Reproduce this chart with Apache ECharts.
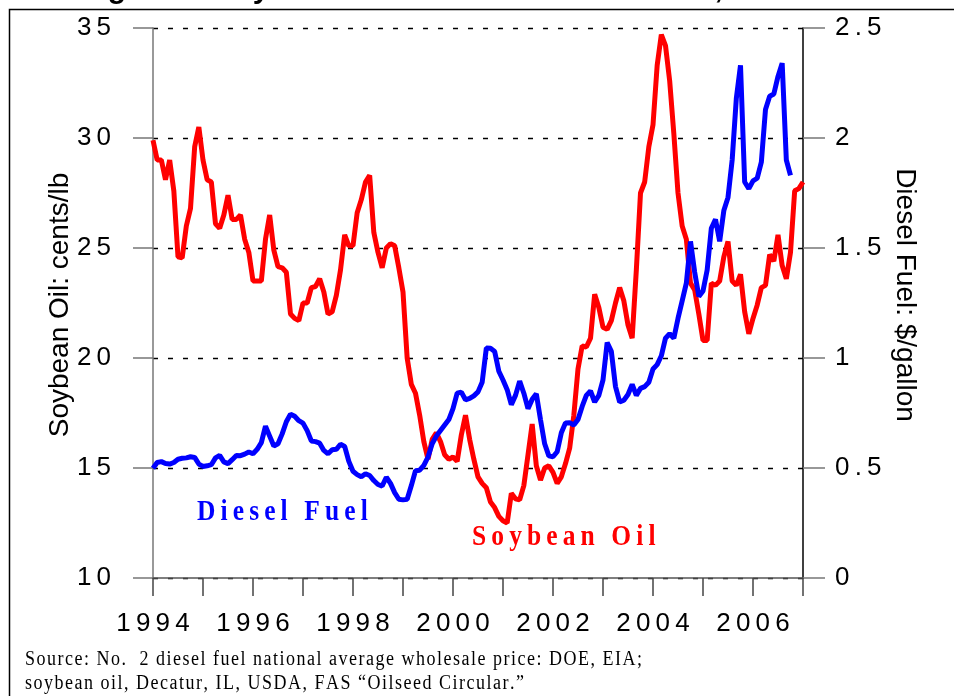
<!DOCTYPE html>
<html><head><meta charset="utf-8">
<script src="https://cdn.jsdelivr.net/npm/echarts@6/dist/echarts.min.js"></script>
<style>html,body{margin:0;padding:0;background:#fff}#c{width:954px;height:696px}</style>
</head><body><div id="c"></div>
<script>
// Monthly data, January 1994 onward
const startYear = 1994;
const soybeanOil = [ // cents/lb
  29.9, 29.0, 29.0, 28.1, 29.0, 27.6, 24.6, 24.55, 26.0, 26.8,
  29.6, 30.5, 29.0, 28.1, 28.0, 26.1, 25.9, 26.5, 27.4, 26.3,
  26.3, 26.5, 25.4, 24.8, 23.5, 23.5, 23.5, 25.4, 26.5, 24.9,
  24.15, 24.1, 23.9, 22.0, 21.8, 21.7, 22.5, 22.5, 23.2, 23.25,
  23.6, 23.0, 22.0, 22.1, 22.85, 24.0, 25.6, 25.1, 25.1, 26.6,
  27.2, 28.0, 28.3, 25.7, 24.8, 24.1, 25.0, 25.2, 25.1, 24.1,
  23.0, 20.0, 18.8, 18.4, 17.4, 16.2, 15.4, 16.3, 16.6, 16.2,
  15.6, 15.4, 15.5, 15.3, 16.5, 17.4, 16.3, 15.4, 14.6, 14.3,
  14.1, 13.45, 13.2, 12.8, 12.6, 12.5, 13.85, 13.6, 13.55, 14.2,
  15.6, 17.0, 15.1, 14.45, 15.0, 15.1, 14.8, 14.3, 14.6, 15.2,
  15.9, 17.4, 19.5, 20.55, 20.5, 20.9, 22.9, 22.3, 21.4, 21.3,
  21.7, 22.5, 23.2, 22.6, 21.5, 20.9, 24.0, 27.5, 28.0, 29.6,
  30.6, 33.3, 34.7, 34.2, 32.6, 30.2, 27.5, 26.0, 25.4, 23.4,
  23.1, 22.0, 20.8, 20.8, 23.4, 23.3, 23.5, 24.6, 25.3, 23.5,
  23.3, 23.8, 22.1, 21.1, 21.8, 22.4, 23.2, 23.3, 24.7, 24.4,
  25.6, 24.2, 23.6, 24.8, 27.6, 27.7, 28.0
];
const dieselFuel = [ // $/gallon
  0.499, 0.525, 0.529, 0.52, 0.518, 0.525, 0.54, 0.544, 0.546, 0.551,
  0.548, 0.518, 0.507, 0.51, 0.515, 0.546, 0.557, 0.528, 0.52, 0.538,
  0.557, 0.556, 0.563, 0.573, 0.565, 0.585, 0.615, 0.69, 0.645, 0.6,
  0.61, 0.655, 0.71, 0.745, 0.735, 0.715, 0.704, 0.67, 0.623, 0.62,
  0.613, 0.58, 0.565, 0.583, 0.585, 0.608, 0.598, 0.53, 0.485, 0.47,
  0.46, 0.474, 0.466, 0.443, 0.425, 0.418, 0.458, 0.43, 0.388, 0.358,
  0.355, 0.358, 0.42, 0.488, 0.49, 0.512, 0.55, 0.61, 0.645, 0.67,
  0.695, 0.72, 0.77, 0.84, 0.845, 0.81, 0.816, 0.828, 0.846, 0.89,
  1.045, 1.044, 1.03, 0.94, 0.9, 0.856, 0.788, 0.83, 0.895, 0.84,
  0.77, 0.812, 0.837, 0.72, 0.61, 0.555, 0.551, 0.574, 0.66, 0.705,
  0.706, 0.695, 0.72, 0.78, 0.83, 0.85, 0.80, 0.83, 0.9, 1.07,
  1.03, 0.87, 0.80, 0.808, 0.834, 0.88, 0.83, 0.862, 0.87, 0.89,
  0.95, 0.97, 1.01, 1.09, 1.11, 1.09, 1.18, 1.26, 1.34, 1.53,
  1.39, 1.28, 1.305, 1.40, 1.59, 1.63, 1.53, 1.67, 1.73, 1.9,
  2.18, 2.33, 1.80, 1.77, 1.805, 1.817, 1.89, 2.13, 2.19, 2.2,
  2.28, 2.34, 1.9, 1.83
];
const xTickYears = [1994, 1996, 1998, 2000, 2002, 2004, 2006];
const leftTicks = [10, 15, 20, 25, 30, 35];
const rightTicks = [0, 0.5, 1, 1.5, 2, 2.5];
const seriesNames = ['Soybean Oil', 'Diesel Fuel'];
const axisNames = ['Soybean Oil: cents/lb', 'Diesel Fuel: $/gallon'];
const titleText = 'Figure 2. Soybean Oil and Diesel Fuel Prices, 1994-2006';
const sourceLines = [
  'Source: No.  2 diesel fuel national average wholesale price: DOE, EIA;',
  'soybean oil, Decatur, IL, USDA, FAS \u201COilseed Circular.\u201D'
];

const sp = (s, ch) => String(s).split('').join(ch || '\u2009');
const toXY = arr => arr.map((v, i) => [startYear + i / 12, v]);

const chart = echarts.init(document.getElementById('c'), null, {renderer: 'canvas'});
const sansFont = 'Liberation Sans, Arial, sans-serif';
const serifFont = 'Liberation Serif, Times New Roman, serif';

chart.setOption({
  animation: false,
  backgroundColor: '#fff',
  grid: {left: 153, right: 151, top: 28, bottom: 118, containLabel: false},
  xAxis: {
    type: 'value', min: 1994, max: 2007, interval: 1,
    axisLine: {show: true, onZero: false, lineStyle: {color: '#555', width: 1.5}},
    axisTick: {show: true, length: 18, inside: false, lineStyle: {color: '#444', width: 1.5}},
    axisLabel: {
      show: true, margin: 33, fontSize: 26, fontFamily: sansFont, color: '#000',
      showMinLabel: true, showMaxLabel: true, hideOverlap: false,
      formatter: v => xTickYears.indexOf(Math.round(v)) >= 0 ? sp(Math.round(v)) : ''
    },
    splitLine: {show: false}
  },
  yAxis: [{
    type: 'value', min: 10, max: 35, interval: 5, position: 'left',
    axisLine: {show: true, lineStyle: {color: '#777', width: 1.5}},
    axisTick: {show: true, length: 20, lineStyle: {color: '#777', width: 1.5}},
    axisLabel: {margin: 42, fontSize: 26, fontFamily: sansFont, color: '#000',
      showMinLabel: true, showMaxLabel: true,
      formatter: v => leftTicks.indexOf(v) >= 0 ? sp(v) : ''},
    splitLine: {show: true, lineStyle: {type: [5, 10], color: '#000', width: 1.3}}
  }, {
    type: 'value', min: 0, max: 2.5, interval: 0.5, position: 'right',
    axisLine: {show: true, lineStyle: {color: '#000', width: 1.5}},
    axisTick: {show: true, length: 22, lineStyle: {color: '#777', width: 1.5}},
    axisLabel: {margin: 32, fontSize: 26, fontFamily: sansFont, color: '#000',
      showMinLabel: true, showMaxLabel: true,
      formatter: v => rightTicks.indexOf(v) >= 0 ? sp(v) : ''},
    splitLine: {show: false}
  }],
  series: [{
    name: seriesNames[0], type: 'line', yAxisIndex: 0, showSymbol: false,
    lineStyle: {color: '#FF0000', width: 5}, itemStyle: {color: '#FF0000'},
    data: toXY(soybeanOil), z: 2
  }, {
    name: seriesNames[1], type: 'line', yAxisIndex: 1, showSymbol: false,
    lineStyle: {color: '#0000FF', width: 5}, itemStyle: {color: '#0000FF'},
    data: toXY(dieselFuel), z: 3
  }],
  graphic: [
    {type: 'rect', shape: {x: 9.5, y: 9.5, width: 1000, height: 800},
     style: {fill: 'none', stroke: '#000', lineWidth: 1.5}, z: 0, silent: true},
    {type: 'text', x: 81, y: -10, style: {text: titleText, font: 'bold 30px ' + sansFont,
      fill: '#000', textAlign: 'left', textVerticalAlign: 'middle'}},
    {type: 'text', x: 60, y: 305, rotation: Math.PI / 2,
     style: {text: axisNames[0], font: '28px ' + sansFont, fill: '#000',
      textAlign: 'center', textVerticalAlign: 'middle'}},
    {type: 'text', x: 905, y: 295, rotation: -Math.PI / 2,
     style: {text: axisNames[1], font: '28px ' + sansFont, fill: '#000',
      textAlign: 'center', textVerticalAlign: 'middle'}},
    {type: 'text', x: 197, y: 512, scaleX: 0.85,
     style: {text: sp(seriesNames[1]), font: 'bold 30px ' + serifFont, fill: '#0000FF',
      textAlign: 'left', textVerticalAlign: 'middle'}},
    {type: 'text', x: 472, y: 537, scaleX: 0.85,
     style: {text: sp(seriesNames[0]), font: 'bold 30px ' + serifFont, fill: '#FF0000',
      textAlign: 'left', textVerticalAlign: 'middle'}},
    {type: 'text', x: 25, y: 660, scaleX: 0.9,
     style: {text: sp(sourceLines[0], '\u200A'), font: '20px ' + serifFont, fill: '#000',
      textAlign: 'left', textVerticalAlign: 'middle'}},
    {type: 'text', x: 25, y: 684, scaleX: 0.9,
     style: {text: sp(sourceLines[1], '\u200A'), font: '20px ' + serifFont, fill: '#000',
      textAlign: 'left', textVerticalAlign: 'middle'}}
  ]
});
</script>
</body></html>
